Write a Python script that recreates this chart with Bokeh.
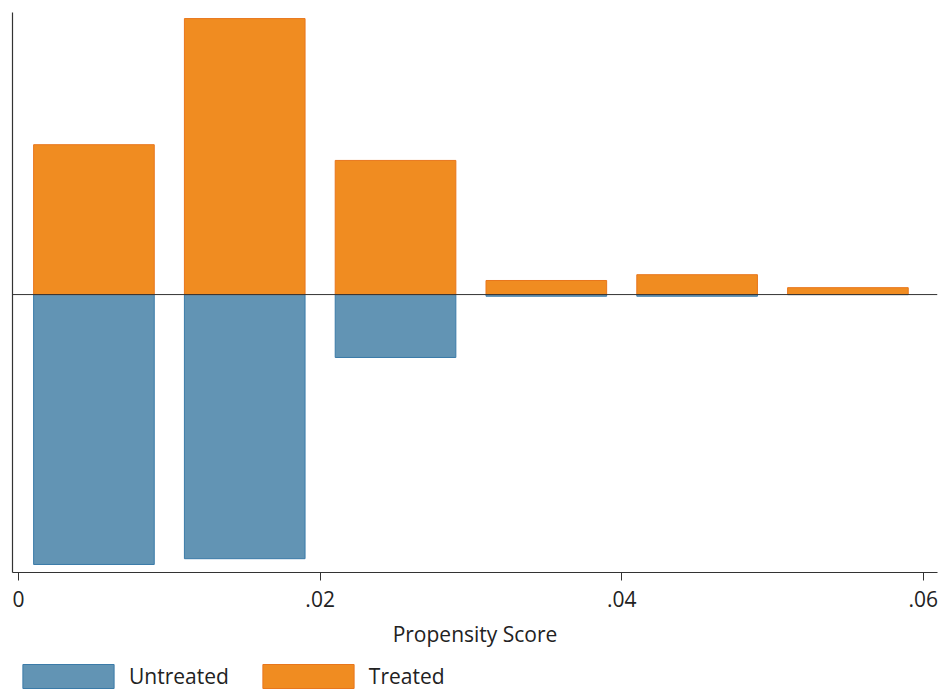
from bokeh.plotting import figure
from bokeh.layouts import column
from bokeh.models import Range1d, Span, Legend, LegendItem, FixedTicker, ColumnDataSource
from bokeh.embed import file_html
from bokeh.resources import INLINE

# Data (histogram densities, mirrored)
bin_centers = [0.005, 0.015, 0.025, 0.035, 0.045, 0.055]
bin_width = 0.008
treated = [54.3, 100.0, 48.6, 5.1, 7.2, 2.5]
untreated = [97.8, 95.7, 22.8, 0.6, 0.6, 0.0]
x_ticks = [0, 0.02, 0.04, 0.06]
x_tick_labels = ["0", ".02", ".04", ".06"]
series_names = ["Untreated", "Treated"]

FONT = "Open Sans"
BLUE_FILL, BLUE_LINE = "#6294b4", "#3b7ba8"
ORANGE_FILL, ORANGE_LINE = "#f08c21", "#e8761c"

p = figure(width=943, height=652,
           x_range=Range1d(-0.0004, 0.06094), y_range=Range1d(-100.7, 102.2),
           output_backend="svg", toolbar_location=None,
           min_border_left=12, min_border_right=6, min_border_top=12, min_border_bottom=80)

src = ColumnDataSource(dict(x=bin_centers, t=treated, u=[-v for v in untreated]))

p.vbar(x="x", width=bin_width, top=0, bottom="u", source=src,
       fill_color=BLUE_FILL, line_color=BLUE_LINE, line_width=1)
p.vbar(x="x", width=bin_width, top="t", bottom=0, source=src,
       fill_color=ORANGE_FILL, line_color=ORANGE_LINE, line_width=1)

p.add_layout(Span(location=0, dimension="width", line_color="#333333", line_width=1))

p.xgrid.visible = False
p.ygrid.visible = False
p.outline_line_color = None

# y axis: line only
p.yaxis.ticker = FixedTicker(ticks=[])
p.yaxis.major_label_text_font_size = "0px"
p.yaxis.major_tick_line_color = None
p.yaxis.minor_tick_line_color = None
p.yaxis.axis_line_color = "#333333"
p.yaxis.axis_line_width = 1.2
p.yaxis.major_label_standoff = 0

xa = p.xaxis[0]
xa.ticker = FixedTicker(ticks=x_ticks)
xa.major_label_overrides = {t: l for t, l in zip(x_ticks, x_tick_labels)}
xa.major_tick_out = 8
xa.major_tick_in = 0
xa.minor_tick_line_color = None
xa.axis_line_color = "#333333"
xa.axis_line_width = 1.2
xa.major_tick_line_color = "#333333"
xa.major_label_text_font = FONT
xa.major_label_text_font_size = "21px"
xa.major_label_text_color = "#222222"
xa.major_label_standoff = 10
xa.axis_label = "Propensity Score"
xa.axis_label_text_font = FONT
xa.axis_label_text_font_size = "21px"
xa.axis_label_text_font_style = "normal"
xa.axis_label_text_color = "#222222"
xa.axis_label_standoff = 10

# Legend strip below: same bars, kept outside this strip's visible ranges
p2 = figure(width=943, height=40, x_range=Range1d(10, 11), y_range=Range1d(1000, 1001),
            output_backend="svg", toolbar_location=None,
            min_border_left=0, min_border_right=0, min_border_top=0, min_border_bottom=0)
p2.axis.visible = False
p2.xgrid.visible = False
p2.ygrid.visible = False
p2.outline_line_color = None
lr_u = p2.vbar(x="x", width=bin_width, top=0, bottom="u", source=src,
               fill_color=BLUE_FILL, line_color=BLUE_LINE, line_width=1)
lr_t = p2.vbar(x="x", width=bin_width, top="t", bottom=0, source=src,
               fill_color=ORANGE_FILL, line_color=ORANGE_LINE, line_width=1)

legend = Legend(items=[LegendItem(label=series_names[0], renderers=[lr_u], index=0),
                       LegendItem(label=series_names[1], renderers=[lr_t], index=0)],
                orientation="horizontal", glyph_width=114, glyph_height=30,
                label_text_font=FONT, label_text_font_size="21px", label_text_color="#222222",
                label_standoff=4, spacing=22, padding=0, margin=0,
                border_line_color=None, background_fill_alpha=0,
                location=(-1, 1))
p2.add_layout(legend, "center")

open("out.html", "w").write(file_html(column(p, p2, spacing=0), INLINE))
